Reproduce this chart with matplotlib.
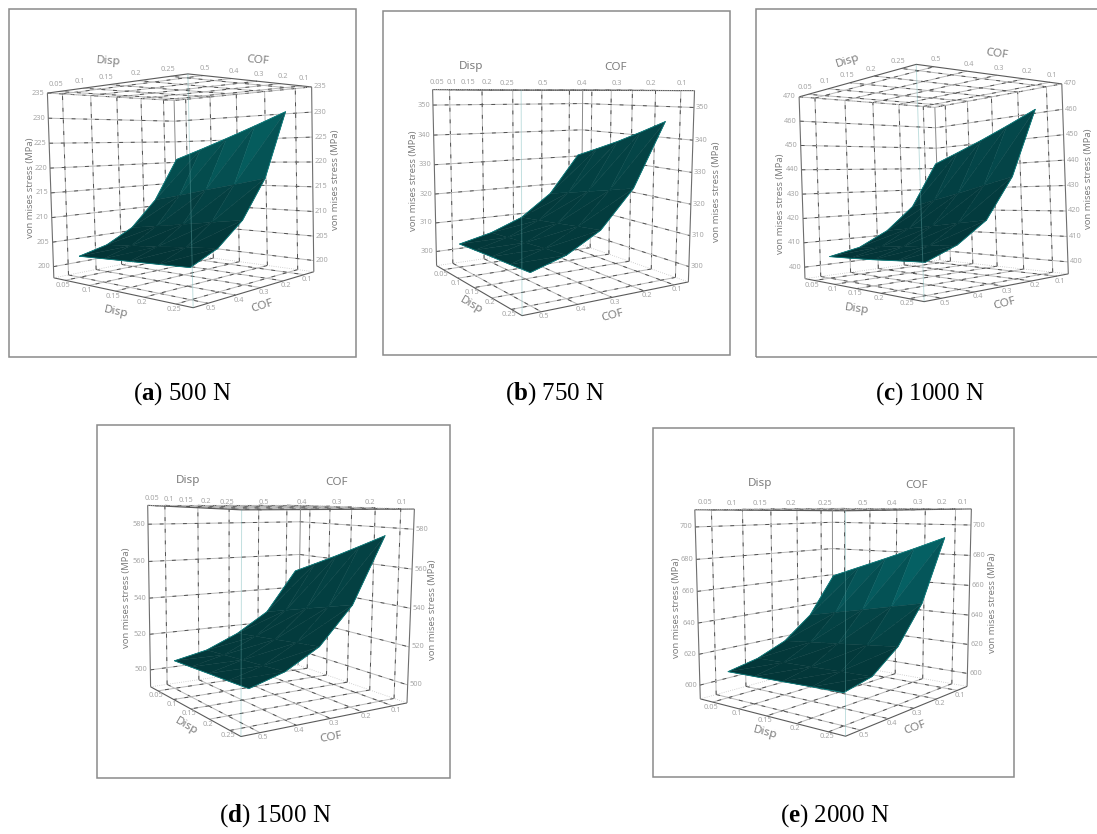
import numpy as np
import matplotlib
matplotlib.use('Agg')
import matplotlib.pyplot as plt
from matplotlib.patches import Rectangle
from mpl_toolkits.mplot3d import proj3d
from mpl_toolkits.mplot3d.art3d import Poly3DCollection

plt.rcParams['font.family'] = ['Noto Sans', 'DejaVu Sans']
plt.rcParams['mathtext.fontset'] = 'custom'
plt.rcParams['mathtext.bf'] = 'Liberation Serif:bold'
plt.rcParams['mathtext.rm'] = 'Liberation Serif'

W, H = 1097, 834
S = 370.0

disp = [0.05, 0.1, 0.15, 0.2, 0.25]
cof = [0.5, 0.4, 0.3, 0.2, 0.1]
disp_labels = ['0.05', '0.1', '0.15', '0.2', '0.25']
cof_labels = ['0.5', '0.4', '0.3', '0.2', '0.1']
disp_lim = (0.025, 0.275)
cof_lim = (0.05, 0.55)

# von Mises stress, rows follow cof, columns follow disp
stress_a = [[202.0, 202.3, 202.6, 202.9, 203.2],
            [203.4, 203.9, 204.4, 205.0, 205.5],
            [206.3, 207.1, 208.0, 208.9, 209.8],
            [211.8, 213.1, 214.5, 215.8, 217.2],
            [220.8, 223.0, 225.3, 227.7, 230.2]]
stress_b = [[303.1, 303.5, 303.9, 304.2, 304.6],
            [305.7, 306.3, 306.9, 307.5, 308.0],
            [309.9, 310.9, 311.9, 313.0, 314.0],
            [317.6, 319.5, 321.5, 323.5, 325.6],
            [331.1, 334.4, 337.8, 341.6, 345.6]]
stress_c = [[404.1, 404.5, 405.0, 405.7, 406.3],
            [406.6, 407.6, 408.6, 409.7, 410.8],
            [412.6, 414.0, 415.5, 417.0, 418.5],
            [422.5, 425.3, 428.1, 431.1, 434.1],
            [441.9, 446.2, 450.6, 455.4, 460.5]]
stress_d = [[505.9, 506.5, 507.2, 507.8, 508.5],
            [509.7, 510.7, 511.8, 512.8, 513.9],
            [517.3, 518.9, 520.5, 522.2, 523.8],
            [528.2, 531.8, 535.5, 539.1, 542.7],
            [551.3, 557.3, 563.4, 569.9, 576.5]]
stress_e = [[608.0, 608.5, 609.0, 609.6, 610.1],
            [612.1, 612.6, 613.1, 613.6, 614.1],
            [619.9, 621.8, 623.7, 625.6, 627.6],
            [634.7, 638.8, 642.9, 647.1, 651.3],
            [661.0, 668.5, 676.0, 683.8, 691.9]]

ticks_a = [200, 205, 210, 215, 220, 225, 230, 235]
ticks_b = [300, 310, 320, 330, 340, 350]
ticks_c = [400, 410, 420, 430, 440, 450, 460, 470]
ticks_d = [500, 520, 540, 560, 580]
ticks_e = [600, 620, 640, 660, 680, 700]

panels = [
    dict(z=stress_a, ticks=ticks_a, zlim=(197.7, 235),
         view=[3.131, 43.491, 1.333, 0.311, 0.950, 0.974, 0.842, 176.701, 188.163],
         frame=(9, 9, 356, 357), dark='#033436', light='#066a6b', caption='a', force='500 N', cap=(182, 394),
         top_d=(108.7, 61.7, -4), top_c=(258, 60, -5), bot_d=(115.7, 311.7, -12), bot_c=(261.7, 306, 18),
         yl=(31, 187.3), yr=(335.5, 180)),
    dict(z=stress_b, ticks=ticks_b, zlim=(295, 355.1),
         view=[8.069, 57.669, -0.204, 0.333, 1.004, 0.999, 0.843, 552.562, 188.561],
         frame=(383, 10.7, 730, 355), dark='#03383a', light='#044a4c', caption='b', force='750 N', cap=(555, 394),
         top_d=(470.7, 66.7, 0), top_c=(615.7, 67.3, 0), bot_d=(471.7, 305.7, -30), bot_c=(612.3, 316, 15),
         yl=(413.3, 180.7), yr=(716, 191.7)),
    dict(z=stress_c, ticks=ticks_c, zlim=(395.3, 470),
         view=[-0.273, 49.689, 1.904, 0.304, 0.961, 0.975, 0.848, 925.646, 188.335],
         frame=(756, 9, 1110, 357), dark='#033538', light='#044f52', caption='c', force='1000 N', cap=(930, 394),
         top_d=(848.3, 61, 18), top_c=(996.3, 54.3, -8), bot_d=(857, 309.3, -8), bot_c=(1004.7, 304, 15),
         yl=(780.3, 203.3), yr=(1088.5, 178.3)),
    dict(z=stress_d, ticks=ticks_d, zlim=(490.4, 590),
         view=[8.569, 56.514, -0.580, 0.364, 1.021, 1.018, 0.857, 270.412, 607.684],
         frame=(97.3, 425, 450, 778), dark='#03383a', light='#044648', caption='d', force='1500 N', cap=(275, 816),
         top_d=(188.3, 481, 0), top_c=(336.7, 482.7, 0), bot_d=(186, 726.7, -30), bot_c=(330.7, 737.3, 10),
         yl=(126.7, 597.3), yr=(433, 610)),
    dict(z=stress_e, ticks=ticks_e, zlim=(591, 710.5),
         view=[7.943, 38.825, 0.089, 0.356, 1.134, 1.015, 0.870, 832.805, 607.528],
         frame=(653.3, 428.3, 1014.3, 776.7), dark='#033638', light='#067074', caption='e', force='2000 N', cap=(835, 816),
         top_d=(760, 484, 0), top_c=(916, 485, 0), bot_d=(764.7, 733.3, -15), bot_c=(915, 728.3, 20),
         yl=(676, 607.3), yr=(993, 602.7)),
]

fig = plt.figure(figsize=(W / 100, H / 100), dpi=100)
GRID = '#8c8c8c'
TICKC = '#a6a6a6'
TITLEC = '#7d7d7d'


def fx(x):
    return x / W


def fy(y):
    return 1 - y / H


def draw_line(ax, xs, ys, zs, color=GRID, lw=0.7, zorder=1, **kw):
    ax.plot(xs, ys, zs, color=color, lw=lw, zorder=zorder, solid_capstyle='butt', **kw)


def grid_line(ax, xs, ys, zs):
    draw_line(ax, xs, ys, zs, color='#b8b8b8', lw=0.7)
    draw_line(ax, xs, ys, zs, color='#505050', lw=0.7, linestyle=(0, (4, 8)))


for p in panels:
    x0, y0, x1, y1 = p['frame']
    fig.add_artist(Rectangle((fx(x0), fy(y1)), (x1 - x0) / W, (y1 - y0) / H, transform=fig.transFigure,
                             fill=False, edgecolor='#8a8a8a', lw=1.1))
    elev, azim, roll, focal, rx, rz, zoom, cx, cy = p['view']
    ax = fig.add_axes([fx(cx - S / 2), fy(cy + S / 2), S / W, S / H], projection='3d', computed_zorder=False)
    ax.patch.set_alpha(0)
    ax.set_axis_off()
    ax.view_init(elev=elev, azim=azim, roll=roll)
    ax.set_proj_type('persp', focal_length=focal)
    ax.set_box_aspect((rx, 1, rz), zoom=zoom)
    zl = p['zlim']
    ticks = p['ticks']
    cl, ch = cof_lim
    dl, dh = disp_lim

    # back walls
    for c in cof:
        grid_line(ax, [c, c], [dl, dl], zl)
    for d in disp:
        grid_line(ax, [cl, cl], [d, d], zl)
    for z in ticks:
        grid_line(ax, [ch, cl, cl], [dl, dl, dh], [z, z, z])
    # floor and top
    for z in zl:
        for c in cof:
            grid_line(ax, [c, c], [dl, dh], [z, z])
        for d in disp:
            grid_line(ax, [cl, ch], [d, d], [z, z])
        draw_line(ax, [ch, ch, cl], [dl, dh, dh], [z, z, z], color='#5a5a5a', lw=0.8)
        draw_line(ax, [ch, cl, cl], [dl, dl, dh], [z, z, z], color='#c4c4c4', lw=0.6, linestyle=':')
    # vertical box edges
    draw_line(ax, [ch, ch], [dl, dl], zl, color='#6e6e6e', lw=0.8)
    draw_line(ax, [cl, cl], [dh, dh], zl, color='#6e6e6e', lw=0.8)
    draw_line(ax, [cl, cl], [dl, dl], zl, color='#8a8a8a', lw=0.7)

    # surface: two triangles per grid cell, shaded by mean height
    Z = np.array(p['z'])
    tris, vals = [], []
    for i in range(len(cof) - 1):
        for j in range(len(disp) - 1):
            a = (cof[i], disp[j], Z[i, j])
            b = (cof[i], disp[j + 1], Z[i, j + 1])
            c = (cof[i + 1], disp[j + 1], Z[i + 1, j + 1])
            d = (cof[i + 1], disp[j], Z[i + 1, j])
            for tri in ((a, b, c), (a, c, d)):
                tris.append(tri)
                vals.append(np.mean([q[2] for q in tri]))
    vals = np.array(vals)
    t = np.clip((vals - Z.min()) / (Z.max() - Z.min()), 0, 1) ** 1.4
    dark = np.array(matplotlib.colors.to_rgb(p['dark']))
    light = np.array(matplotlib.colors.to_rgb(p['light']))
    cols = dark + (light - dark) * t[:, None]
    ax.add_collection3d(Poly3DCollection(tris, facecolors=cols, edgecolors=cols, linewidths=0.3, zorder=3))
    ex = list(cof) + [cof[-1]] * 4 + list(cof[::-1]) + [cof[0]] * 4
    ey = [disp[0]] * 5 + list(disp[1:]) + [disp[-1]] * 5 + list(disp[-2::-1])
    ez = list(Z[:, 0]) + list(Z[-1, 1:]) + list(Z[::-1, -1]) + list(Z[0, -2::-1])
    draw_line(ax, ex, ey, ez, color='#0a7c7c', lw=0.6, zorder=4)
    # near vertical edge, faint over the surface
    draw_line(ax, [ch, ch], [dh, dh], zl, color='#66b0b0', lw=0.7, zorder=5, alpha=0.4)

    ax.set_xlim(*cof_lim)
    ax.set_ylim(*disp_lim)
    ax.set_zlim(*zl)
    M = ax.get_proj()

    def label(x, y, z, s, dx, dy, ha='center', va='center'):
        X, Y, _ = proj3d.proj_transform(x, y, z, M)
        ax.annotate(s, xy=(X, Y), xycoords='data', xytext=(dx, dy), textcoords='offset pixels',
                    ha=ha, va=va, fontsize=5.3, color=TICKC, annotation_clip=False, zorder=6)

    for z in ticks:
        label(ch, dl, z, str(z), -3, 0, ha='right')
        label(cl, dh, z, str(z), 2, 0, ha='left')
    for d, s in zip(disp, disp_labels):
        label(ch, d, zl[0], s, -2, -5)
        label(ch, d, zl[1], s, -3, 7)
    for c, s in zip(cof, cof_labels):
        label(c, dh, zl[0], s, 3, -5)
        label(c, dh, zl[1], s, 2, 7)

    for key, s in (('top_d', 'Disp'), ('top_c', 'COF'), ('bot_d', 'Disp'), ('bot_c', 'COF')):
        tx, ty, rot = p[key]
        fig.text(fx(tx), fy(ty), s, fontsize=8.4, color=TITLEC, rotation=rot, ha='center', va='center')
    for key in ('yl', 'yr'):
        tx, ty = p[key]
        fig.text(fx(tx), fy(ty), 'von mises stress (MPa)', fontsize=6.8, color=TITLEC, rotation=90,
                 ha='center', va='center')
    fig.text(fx(p['cap'][0]), fy(p['cap'][1]), '(' + r'$\mathbf{' + p['caption'] + r'}$' + ') ' + p['force'],
             family='Liberation Serif', fontsize=18, color='black', ha='center', va='center')

fig.savefig('out.png', dpi=100)
